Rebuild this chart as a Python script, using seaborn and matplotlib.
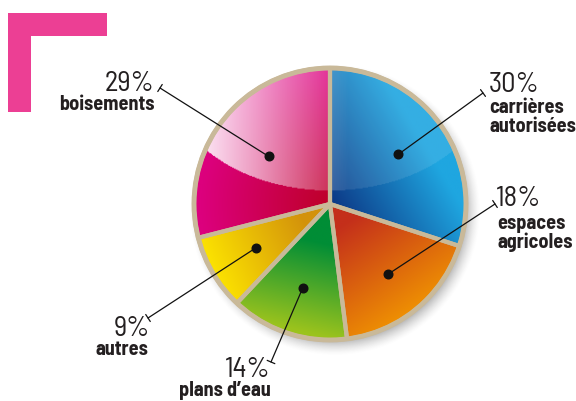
import numpy as np
import matplotlib
matplotlib.use("Agg")
import matplotlib.pyplot as plt
import seaborn as sns
from matplotlib.colors import to_rgb
from matplotlib.patches import Rectangle, Circle

# ---------------- data ----------------
categories = ["carrières\nautorisées", "espaces\nagricoles", "plans d’eau", "autres", "boisements"]
shares = [30, 18, 14, 9, 29]
pct_labels = ["30%", "18%", "14%", "9%", "29%"]

# gradient colours (start / end) per slice
col_a = ["#0b2f7e", "#c42f1b", "#008d36", "#ffe900", "#bf002c"]
col_b = ["#1fa6e0", "#f39a00", "#9bc31d", "#d3920b", "#dc007d"]

# ---------------- layout / style ----------------
W, H = 576, 401
cx, cy, R = 330, H - 204, 136
edge_col = "#c9b999"
txt_col = "#231f20"

# ("lin", p1, p2) linear gradient, ("rad", r0, r1) radial gradient
grad_def = [("lin", (0.0, -0.1), (0.75, 0.35)),
            ("lin", (0.1, -0.15), (0.6, -0.9)),
            ("lin", (0.0, -0.3), (-0.15, -0.95)),
            ("lin", (-0.95, -0.45), (-0.2, -0.1)),
            ("rad", 0.05, 0.95)]
dot_frac = [0.62, 0.67, 0.65, 0.63, 0.57]
leader_end = [(483, 93), (495, 204), (271, 362), (148, 318), (160, 88)]
pct_pos = [(489, 92, "left"), (496, 206, "left"), (271, 377, "right"),
           (150, 336, "right"), (154, 91, "right")]
cat_pos = [(489, 113, "left"), (497, 229, "left"), (271, 396, "right"),
           (148, 355, "right"), (155, 110, "right")]
FONT = ["Barlow Semi Condensed", "DejaVu Sans"]

sns.set_theme(style="white")
plt.rcParams["font.family"] = FONT

fig = plt.figure(figsize=(W / 100, H / 100), dpi=100)
ax = fig.add_axes([0, 0, 1, 1])

# pink corner mark
ax.add_patch(Rectangle((8, H - 112), 23, 99, color="#ec3f94", lw=0, zorder=1))
ax.add_patch(Rectangle((8, H - 36), 99, 23, color="#ec3f94", lw=0, zorder=1))

# shadow
n = 400
ext = R + 30
xs = np.linspace(-ext, ext, n)
X, Y = np.meshgrid(xs, xs)
d = np.hypot(X - 5, Y + 6)
sh = np.zeros((n, n, 4))
sh[..., :3] = 0.35
sh[..., 3] = 0.45 * np.clip((R + 10 - d) / 16, 0, 1) ** 1.5
ax.imshow(sh, extent=(cx - ext, cx + ext, cy - ext, cy + ext), origin="lower",
          zorder=0.5, interpolation="bilinear")

wedges, _ = ax.pie(shares, startangle=90, counterclock=False, radius=R,
                   center=(cx, cy), colors=col_b,
                   wedgeprops=dict(edgecolor=edge_col, linewidth=3, joinstyle="round"))

# gradient fills
n = 300
g = np.linspace(-1, 1, n)
U, V = np.meshgrid(g, g)
for w, c1, c2, gd in zip(wedges, col_a, col_b, grad_def):
    c1 = np.array(to_rgb(c1)); c2 = np.array(to_rgb(c2))
    if gd[0] == "lin":
        p1, p2 = gd[1], gd[2]
        dx, dy = p2[0] - p1[0], p2[1] - p1[1]
        t = ((U - p1[0]) * dx + (V - p1[1]) * dy) / (dx * dx + dy * dy)
    else:
        t = (np.hypot(U, V) - gd[1]) / (gd[2] - gd[1])
    t = np.clip(t, 0, 1)[..., None]
    img = c1 * (1 - t) + c2 * t
    ax.imshow(img, extent=(cx - R, cx + R, cy - R, cy + R), origin="lower",
              zorder=2, clip_path=w, interpolation="bilinear")
    w.set_facecolor("none")
    w.set_zorder(3)

# gloss highlight (upper part)
circ = Circle((cx, cy), R, transform=ax.transData, fill=False, lw=0)
ax.add_patch(circ)
inside = ((U / 1.2) ** 2 + ((V - 0.95) / 0.85) ** 2) <= 1
alpha = np.clip(0.2 - 0.75 * U, 0.1, 0.92) * inside
gl = np.ones((n, n, 4))
gl[..., 3] = alpha
ax.imshow(gl, extent=(cx - R, cx + R, cy - R, cy + R), origin="lower",
          zorder=2.5, clip_path=circ, interpolation="bilinear")

ax.add_patch(Circle((cx, cy), R, fill=False, ec=edge_col, lw=3.5, zorder=3.5))

# dots, leaders, labels
cum = 0
for i, s in enumerate(shares):
    mid = np.deg2rad(90 - (cum + s / 2) / sum(shares) * 360)
    cum += s
    px = cx + dot_frac[i] * R * np.cos(mid)
    py = cy + dot_frac[i] * R * np.sin(mid)
    ax.plot(px, py, "o", color="#111111", ms=6.2, zorder=5)
    ex, ey = leader_end[i]
    ax.annotate("", xy=(ex, H - ey), xytext=(px, py),
                arrowprops=dict(arrowstyle="|-|,widthA=0,widthB=0.25",
                                color="#111111", lw=0.9, shrinkA=0, shrinkB=0),
                zorder=4)
    x, y, ha = pct_pos[i]
    ax.text(x, H - y, pct_labels[i], ha=ha, va="baseline", fontsize=20.5,
            fontweight=400, color=txt_col, family=FONT)
    x, y, ha = cat_pos[i]
    for k, line in enumerate(categories[i].split("\n")):
        ax.text(x, H - y - 18.5 * k, line, ha=ha, va="baseline", fontsize=14.5,
                fontweight="bold", color=txt_col, family=FONT)

ax.set_xlim(0, W)
ax.set_ylim(0, H)
ax.set_aspect("equal")
ax.axis("off")
fig.savefig("out.png", dpi=100, facecolor="white")
